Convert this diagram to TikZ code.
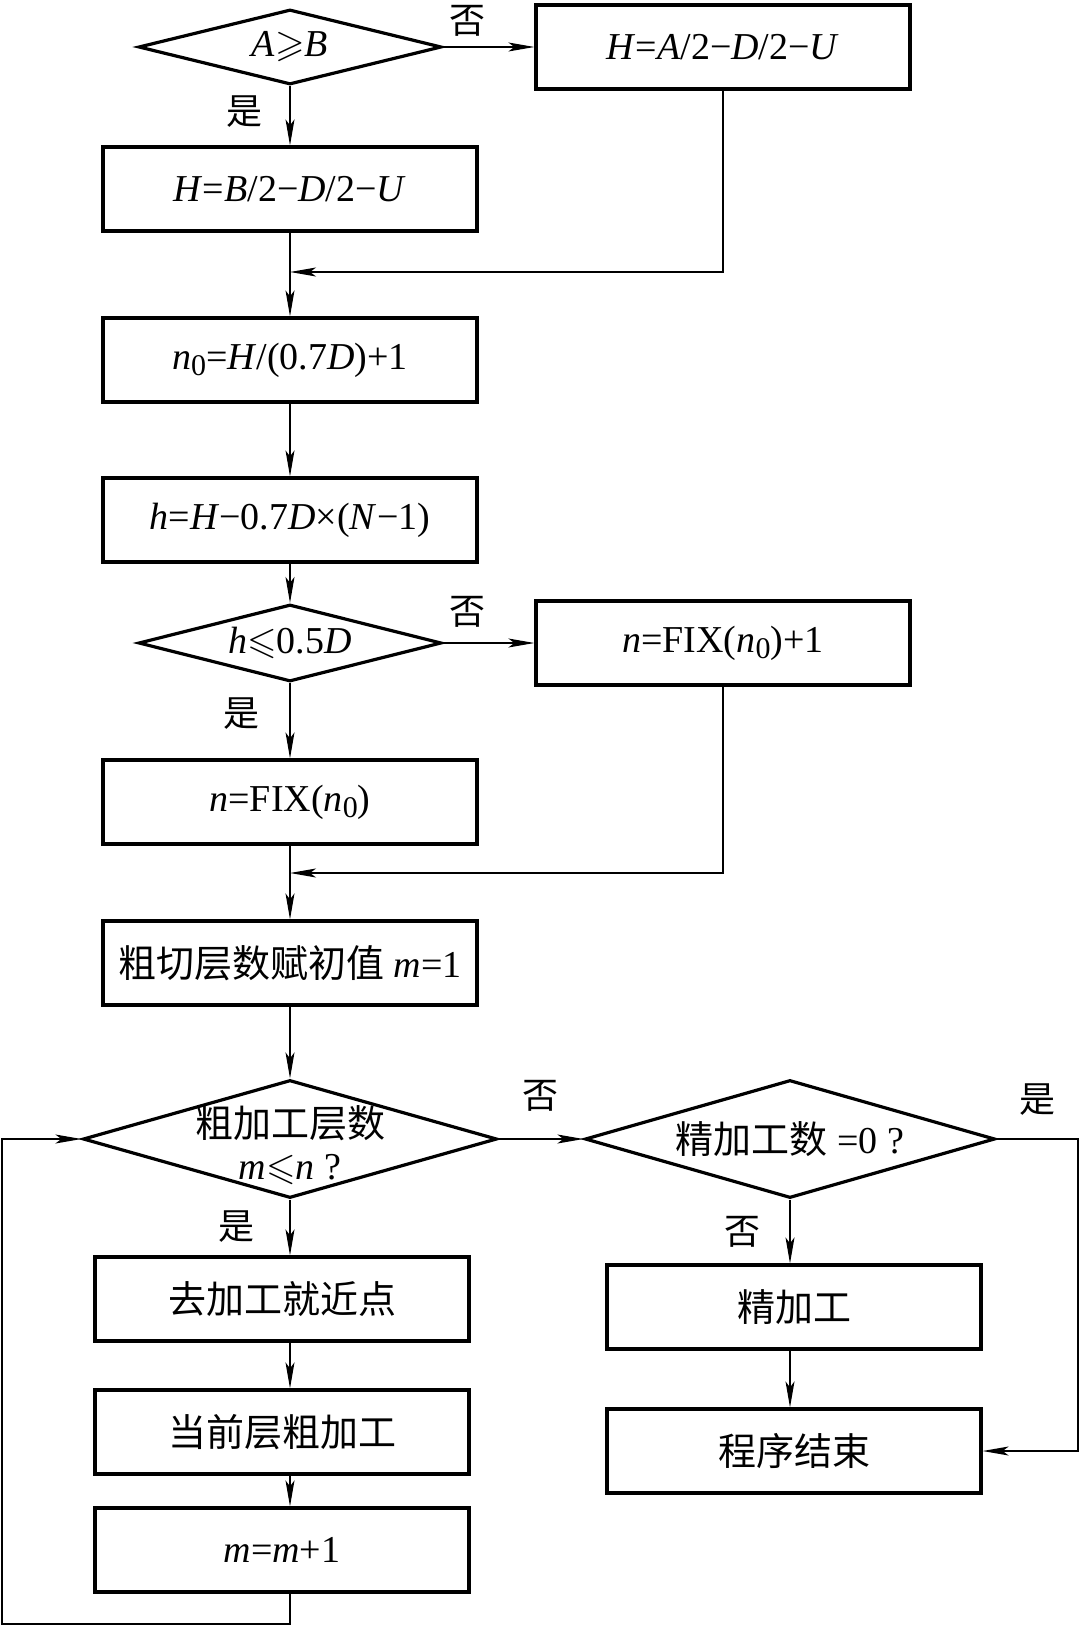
\documentclass[tikz,border=0pt]{standalone}
\usepackage{amssymb}
\usepackage{fontspec}
\setmainfont{Liberation Serif}
\newfontfamily\cjk{Noto Sans CJK SC}
\newcommand{\subzero}{\raisebox{-0.35ex}{\fontsize{15pt}{15pt}\selectfont 0}}
\usetikzlibrary{arrows.meta,shapes.geometric}
\begin{document}
\begin{tikzpicture}[x=0.5pt,y=-0.5pt,
  font=\fontsize{19pt}{22pt}\selectfont,
  boxnode/.style={draw,line width=1.6pt,rectangle,minimum width=187pt,minimum height=42pt,inner sep=0pt},
  decnode/.style={draw,line width=1.6pt,diamond,inner sep=0pt},
  conn/.style={line width=0.65pt},
  arr/.style={conn,-{Stealth[length=13pt,width=4.5pt,inset=3pt]}},
  yn/.style={font=\cjk\fontsize{18pt}{20pt}\selectfont,inner sep=0pt}]
\useasboundingbox (0,0) rectangle (1080,1626);

% decisions
\node[decnode,minimum width=151.5pt,minimum height=37.5pt,
  label={[inner sep=0pt]center:\textit{A}$\geqslant$\textit{B}}] (d1) at (290,47) {};
\node[decnode,minimum width=151.5pt,minimum height=38.5pt,
  label={[inner sep=0pt]center:\textit{h}$\leqslant$0.5\textit{D}}] (d2) at (290,643) {};
\node[decnode,minimum width=207pt,minimum height=59pt,
  label={[inner sep=0pt,align=center,yshift=-3pt]center:{\cjk 粗加工层数}\\[-1pt]\textit{m}$\leqslant$\textit{n} ?}] (d3) at (290,1139) {};
\node[decnode,minimum width=205pt,minimum height=59pt,
  label={[inner sep=0pt]center:{\cjk 精加工数} =0 ?}] (d4) at (790,1139) {};

% boxes
\node[boxnode] (ha) at (723,47) {\textit{H}=\textit{A}/2−\textit{D}/2−\textit{U}};
\node[boxnode] (hb) at (290,189) {\textit{H}=\textit{B}/2−\textit{D}/2−\textit{U}};
\node[boxnode] (n0) at (290,360) {\textit{n}\subzero=\textit{H}/(0.7\textit{D})+1};
\node[boxnode] (hh) at (290,520) {\textit{h}=\textit{H}−0.7\textit{D}×(\textit{N}−1)};
\node[boxnode] (nf1) at (723,643) {\textit{n}=FIX(\textit{n}\subzero)+1};
\node[boxnode] (nf) at (290,802) {\textit{n}=FIX(\textit{n}\subzero)};
\node[boxnode] (init) at (290,963) {{\cjk 粗切层数赋初值} \textit{m}=1};
\node[boxnode] (go) at (282,1299) {\cjk 去加工就近点};
\node[boxnode] (cur) at (282,1432) {\cjk 当前层粗加工};
\node[boxnode] (inc) at (282,1550) {\textit{m}=\textit{m}+1};
\node[boxnode] (fine) at (794,1307) {\cjk 精加工};
\node[boxnode] (fin) at (794,1451) {\cjk 程序结束};

% merge points and loop corners
\coordinate (m1) at (290,272);
\coordinate (m2) at (290,873);
\coordinate (lpb) at (290,1624);
\coordinate (lpl) at (2,1624);
\coordinate (rpt) at (1078,1139);

% connectors
\draw[arr] (d1.east) -- (ha.west);
\draw[arr] (d1.south) -- (hb.north);
\draw[arr] (ha.south) |- (m1);
\draw[arr] (hb.south) -- (n0.north);
\draw[arr] (n0.south) -- (hh.north);
\draw[arr] (hh.south) -- (d2.north);
\draw[arr] (d2.east) -- (nf1.west);
\draw[arr] (d2.south) -- (nf.north);
\draw[arr] (nf1.south) |- (m2);
\draw[arr] (nf.south) -- (init.north);
\draw[arr] (init.south) -- (d3.north);
\draw[arr] (d3.east) -- (d4.west);
\draw[arr] (d3.south) -- (d3.south |- go.north);
\draw[arr] (d3.south |- go.south) -- (d3.south |- cur.north);
\draw[arr] (d3.south |- cur.south) -- (d3.south |- inc.north);
\draw[arr] (d3.south |- inc.south) -- (lpb) -- (lpl) |- (d3.west);
\draw[arr] (d4.south) -- (d4.south |- fine.north);
\draw[arr] (d4.south |- fine.south) -- (d4.south |- fin.north);
\draw[arr] (d4.east) -- (rpt) |- (fin.east);

% yes/no labels
\node[yn] (l1) at (467,21) {否};
\node[yn] (l2) at (244,112) {是};
\node[yn] (l3) at (467,612) {否};
\node[yn] (l4) at (241,714) {是};
\node[yn] (l5) at (540,1096) {否};
\node[yn] (l6) at (1037,1100) {是};
\node[yn] (l7) at (742,1232) {否};
\node[yn] (l8) at (236,1227) {是};
\end{tikzpicture}
\end{document}
